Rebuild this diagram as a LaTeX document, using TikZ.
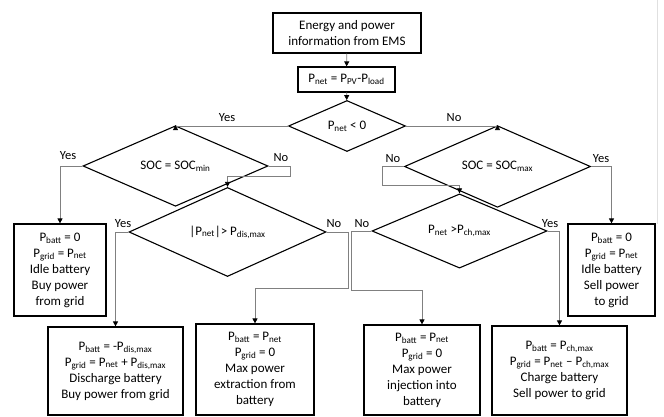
\documentclass[tikz,border=0pt]{standalone}
\usepackage{fontspec}
\setmainfont{Carlito}
\usetikzlibrary{shapes.geometric,arrows.meta,calc}
\newcommand{\sbs}[1]{\textsubscript{#1}}
\begin{document}
\begin{tikzpicture}[x=1pt,y=-1pt,
  box/.style={draw=black,line width=1.2pt,align=center,inner sep=0pt,font=\fontsize{13}{16}\selectfont},
  dia/.style={draw=black,line width=1.1pt,diamond,inner sep=0pt,font=\fontsize{13}{15}\selectfont},
  conn/.style={draw=black!50,line width=0.8pt,-{Triangle[length=5pt,width=5pt,black]}},
  lab/.style={font=\fontsize{12.5}{14}\selectfont,inner sep=0pt}]
\useasboundingbox (0,0) rectangle (664,417);
\draw[black!12,line width=0.8pt] (657,0) -- (657,224);

\node[box,minimum width=148pt,minimum height=40pt] (ems) at (347,33) {Energy and power\\information from EMS};
\node[box,minimum width=97pt,minimum height=25pt] (pnet) at (346.5,79.5) {P\sbs{net} = P\sbs{PV}-P\sbs{load}};
\node[dia,minimum width=117pt,minimum height=51pt] (d1) at (347,126) {P\sbs{net} < 0};
\node[dia,minimum width=185pt,minimum height=48pt] (d2) at (175.5,166) {SOC = SOC\sbs{min}};
\node[dia,minimum width=186pt,minimum height=49pt] (d3) at (497.5,166.5) {SOC = SOC\sbs{max}};
\node[dia,minimum width=197pt,minimum height=46pt] (d4) at (227.5,232) {|P\sbs{net}|> P\sbs{dis,max}};
\node[dia,minimum width=175pt,minimum height=49pt] (d5) at (459.5,231) {P\sbs{net} >P\sbs{ch,max}};

\node[box,minimum width=92pt,minimum height=92pt] (b1) at (60,270) {P\sbs{batt} = 0\\P\sbs{grid} = P\sbs{net}\\Idle battery\\Buy power\\from grid};
\node[box,minimum width=87pt,minimum height=92pt] (bR) at (611.5,270) {P\sbs{batt} = 0\\P\sbs{grid} = P\sbs{net}\\Idle battery\\Sell power\\to grid};
\node[box,minimum width=135pt,minimum height=88pt] (b2) at (115.5,371) {P\sbs{batt} = -P\sbs{dis,max}\\P\sbs{grid} = P\sbs{net} + P\sbs{dis,max}\\Discharge battery\\Buy power from grid};
\node[box,minimum width=118pt,minimum height=91pt] (b3) at (255,369.5) {P\sbs{batt} = P\sbs{net}\\P\sbs{grid} = 0\\Max power\\extraction from\\battery};
\node[box,minimum width=116pt,minimum height=90pt] (b4) at (422,370) {P\sbs{batt} = P\sbs{net}\\P\sbs{grid} = 0\\Max power\\injection into\\battery};
\node[box,minimum width=135pt,minimum height=89pt] (b5) at (559.5,370.5) {P\sbs{batt} = P\sbs{ch,max}\\P\sbs{grid} = P\sbs{net} -- P\sbs{ch,max}\\Charge battery\\Sell power to grid};

\draw[conn] (ems) -- (pnet);
\draw[conn] (pnet) -- (d1);
\draw[conn] (d1.west) -| (d2.north);
\draw[conn] (d1.east) -| (d3.north);
\draw[conn] (d2.west) -| (b1.north);
\draw[conn] (d2.east) -- ++(22,0) |- ($(d4.north)+(0,-11)$) -- (d4.north);
\draw[conn] (d4.west) -| (b2.north);
\draw[conn] (d4.east) -- ++(22,0) |- ($(b3.north)+(0,-35)$) -- (b3.north);
\draw[conn] (d3.west) -- ++(-22,0) |- ($(d5.north)+(0,-8)$) -- (d5.north);
\draw[conn] (d3.east) -| (bR.north);
\draw[conn] (d5.west) -- ++(-20,0) |- ($(b4.north)+(0,-34)$) -- (b4.north);
\draw[conn] (d5.east) -| (b5.north);

\node[lab] (y1) at (227,118) {Yes};
\node[lab] (n1) at (454,118) {No};
\node[lab] (y2) at (68,156) {Yes};
\node[lab] (n2) at (281,158) {No};
\node[lab] (y4) at (123,224) {Yes};
\node[lab] (n4) at (334,224) {No};
\node[lab] (n3) at (393,159) {No};
\node[lab] (y3) at (601,159) {Yes};
\node[lab] (n5) at (362,224) {No};
\node[lab] (y5) at (550,224) {Yes};
\end{tikzpicture}
\end{document}
